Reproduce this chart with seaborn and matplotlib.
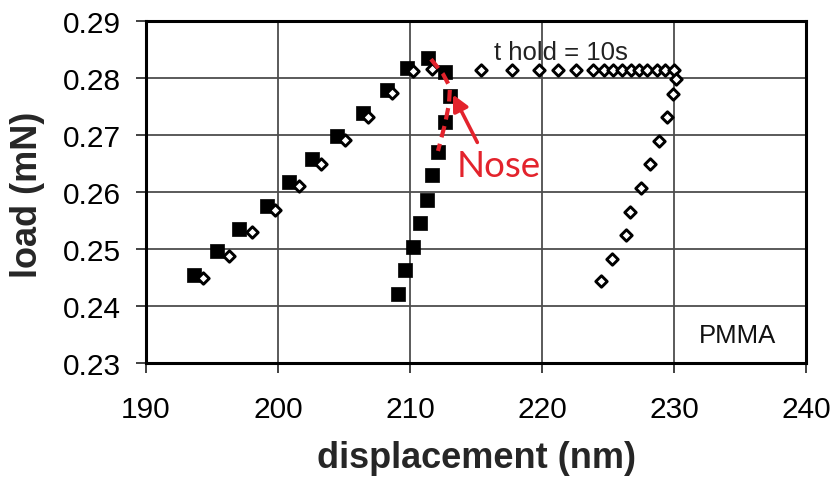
import matplotlib
matplotlib.use("Agg")
import matplotlib.pyplot as plt
import seaborn as sns
import pandas as pd

# Continuous load/unload cycle (filled squares)
cont_disp = [193.6, 195.4, 197.05, 199.2, 200.8, 202.55, 204.45, 206.45, 208.25, 209.75, 211.4,
             212.65, 213.05, 212.65, 212.1, 211.65, 211.3, 210.75, 210.25, 209.65, 209.1]
cont_load = [0.2454, 0.2496, 0.2535, 0.2576, 0.2617, 0.2658, 0.2698, 0.2738, 0.2779, 0.2818, 0.2835,
             0.2810, 0.2768, 0.2722, 0.2671, 0.2630, 0.2586, 0.2546, 0.2503, 0.2464, 0.2421]

# Cycle with a 10 s hold at peak load (open diamonds)
hold_disp = [194.35, 196.3, 198.0, 199.75, 201.6, 203.25, 205.1, 206.85, 208.6, 210.25, 211.7,
             215.4, 217.75, 219.75, 221.2, 222.6, 223.85, 224.7, 225.4, 226.05, 226.75,
             227.35, 227.95, 228.7, 229.3, 230.0,
             230.15, 229.9, 229.5, 228.85, 228.15, 227.5, 226.7, 226.35, 225.3, 224.5]
hold_load = [0.2450, 0.2487, 0.2530, 0.2569, 0.2610, 0.2650, 0.2692, 0.2731, 0.2773, 0.2813, 0.2815,
             0.2814, 0.2814, 0.2814, 0.2814, 0.2814, 0.2814, 0.2814, 0.2814, 0.2814, 0.2814,
             0.2814, 0.2814, 0.2814, 0.2814, 0.2814,
             0.2798, 0.2772, 0.2732, 0.2689, 0.2649, 0.2607, 0.2565, 0.2525, 0.2482, 0.2443]

# Dashed guide tracing the "nose" of the unloading curve
nose_x = [211.59, 212.5, 213.03, 212.95, 212.65, 212.12]
nose_y = [0.2833, 0.2807, 0.2784, 0.2754, 0.2719, 0.2672]

x_ticks = [190, 200, 210, 220, 230, 240]
y_ticks = [0.23, 0.24, 0.25, 0.26, 0.27, 0.28, 0.29]

RED = "#e3232c"

sns.set_style("ticks")
plt.rcParams["font.family"] = ["Liberation Sans", "DejaVu Sans"]

fig = plt.figure(figsize=(8.35, 4.85), dpi=100)
ax = fig.add_axes([146 / 835, 1 - 364 / 485, 660 / 835, 342 / 485])

cont_df = pd.DataFrame({"displacement": cont_disp, "load": cont_load})
hold_df = pd.DataFrame({"displacement": hold_disp, "load": hold_load})

sns.scatterplot(data=cont_df, x="displacement", y="load", ax=ax, marker="s",
                s=100, color="black", edgecolor="black", linewidth=0.5, zorder=3)
sns.scatterplot(data=hold_df, x="displacement", y="load", ax=ax, marker="D",
                s=34, facecolor="white", edgecolor="black", linewidth=2.1, zorder=4)

sns.lineplot(x=nose_x, y=nose_y, ax=ax, sort=False, color=RED, lw=3.0,
             linestyle=(0, (2.8, 1.6)), zorder=5)

ax.annotate("", xy=(213.25, 0.2771), xytext=(215.1, 0.2687),
            arrowprops=dict(arrowstyle="-|>", color=RED, lw=2.6, mutation_scale=24,
                            shrinkA=0, shrinkB=0), zorder=6)
ax.text(216.7, 0.2646, "Nose", color=RED, fontsize=26.5, family=["Lato", "DejaVu Sans"],
        ha="center", va="center", zorder=6)

ax.text(221.4, 0.2845, "t hold = 10s", color="#222222", fontsize=18.5,
        ha="center", va="center", zorder=2)
ax.text(234.8, 0.2349, "PMMA", color="#111111", fontsize=18.5,
        ha="center", va="center")

ax.set_xlim(190, 240)
ax.set_ylim(0.23, 0.29)
ax.set_xticks(x_ticks)
ax.set_yticks(y_ticks)
ax.set_xticklabels([str(v) for v in x_ticks])
ax.set_yticklabels([f"{v:.2f}" for v in y_ticks])

ax.grid(True, color="#4d4d4d", lw=1.3)
ax.set_axisbelow(True)
for sp in ax.spines.values():
    sp.set_visible(True)
    sp.set_color("black")
    sp.set_linewidth(2.2)

ax.tick_params(axis="both", direction="out", length=7, width=1.3, color="#333333",
               labelsize=21.5, labelcolor="black")
ax.tick_params(axis="y", pad=11)
ax.tick_params(axis="x", pad=16)

ax.set_xlabel("displacement (nm)", fontsize=26, fontweight="bold", va="center")
ax.set_ylabel("load (mN)", fontsize=26, fontweight="bold", va="center")
ax.xaxis.set_label_coords(0.5015, -0.275)
ax.yaxis.set_label_coords(-0.179, 0.494)

fig.savefig("out.png", dpi=100)
